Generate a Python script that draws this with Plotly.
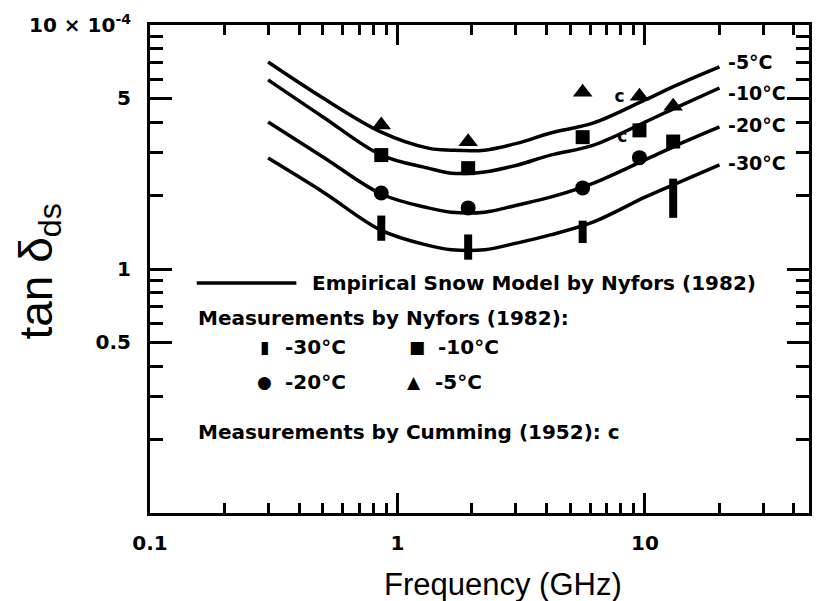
import math
import plotly.graph_objects as go

# ---- model curves (Empirical Snow Model by Nyfors 1982), values x 1e-4 ----
freq_model = [0.3, 0.5, 0.86, 1.33, 1.65, 2.25, 3.06, 4.15, 6.2, 10, 13.5, 20]
model_m5 = [7.05, 5.02, 3.64, 3.13, 3.07, 3.07, 3.28, 3.61, 3.97, 4.93, 5.68, 6.73]
model_m10 = [5.96, 4.20, 2.93, 2.59, 2.47, 2.50, 2.67, 2.93, 3.22, 4.0, 4.61, 5.52]
model_m20 = [4.0, 2.88, 2.03, 1.78, 1.71, 1.71, 1.83, 1.97, 2.25, 2.80, 3.22, 3.82]
model_m30 = [2.85, 2.07, 1.44, 1.25, 1.20, 1.20, 1.28, 1.38, 1.56, 1.97, 2.25, 2.67]
curve_labels = ["-5°C", "-10°C", "-20°C", "-30°C"]

# ---- Nyfors (1982) measurements ----
freq_m5 = [0.86, 1.93, 5.6, 9.5, 13]
meas_m5 = [3.89, 3.32, 5.3, 5.1, 4.65]
freq_m10 = [0.86, 1.93, 5.6, 9.5, 13]
meas_m10 = [2.93, 2.59, 3.47, 3.7, 3.33]
freq_m20 = [0.86, 1.93, 5.6, 9.5]
meas_m20 = [2.05, 1.78, 2.15, 2.86]
freq_m30 = [0.86, 1.93, 5.6, 13]
meas_m30 = [1.47, 1.23, 1.42, 1.95]
size_m30 = [18, 18, 16, 28]

# ---- Cumming (1952) measurements ----
freq_cum = [7.9, 8.1]
meas_cum = [5.02, 3.44]

# ---- axis ticks ----
x_major = [0.1, 1, 10]
x_major_text = ["0.1", "1", "10"]
x_minor = [0.2, 0.3, 0.4, 0.5, 0.6, 0.7, 0.8, 0.9, 2, 3, 4, 5, 6, 7, 8, 9, 20, 30, 40]
y_major = [0.5, 1, 5, 10]
y_major_text = ["0.5", "1", "5", "10 × 10<sup>-4</sup>"]
y_minor = [0.2, 0.3, 0.4, 0.6, 0.7, 0.8, 0.9, 2, 3, 4, 6, 7, 8, 9]

fig = go.Figure()
for ys in [model_m5, model_m10, model_m20, model_m30]:
    fig.add_trace(go.Scatter(x=freq_model, y=ys, mode="lines",
                             line=dict(color="black", width=3.5, shape="spline", smoothing=1.0),
                             hoverinfo="skip", showlegend=False))

fig.add_trace(go.Scatter(x=freq_m5, y=meas_m5, mode="markers",
                         marker=dict(symbol="triangle-up", size=17, color="black"), showlegend=False))
fig.add_trace(go.Scatter(x=freq_m10, y=meas_m10, mode="markers",
                         marker=dict(symbol="square", size=14, color="black"), showlegend=False))
fig.add_trace(go.Scatter(x=freq_m20, y=meas_m20, mode="markers",
                         marker=dict(symbol="circle", size=15, color="black"), showlegend=False))
fig.add_trace(go.Scatter(x=freq_m30, y=meas_m30, mode="markers", opacity=1,
                         marker=dict(symbol="line-ns", size=size_m30, color="rgb(0,0,0)", opacity=1,
                                     line=dict(color="rgb(0,0,0)", width=8)), showlegend=False))
fig.add_trace(go.Scatter(x=freq_cum, y=meas_cum, mode="text", text=["c", "c"],
                         textfont=dict(family="DejaVu Sans", size=17, color="black", weight="bold"),
                         showlegend=False))

lab_font = dict(family="DejaVu Sans", size=19, color="black", weight="bold")
label_y = [model_m5[-1], model_m10[-1], model_m20[-1], model_m30[-1]]
label_shift = [5, -5, 2, 2]
for lab, yv, sh in zip(curve_labels, label_y, label_shift):
    fig.add_annotation(x=math.log10(freq_model[-1]) + 0.028, y=math.log10(yv),
                       xref="x", yref="y", text=lab, showarrow=False, yshift=sh,
                       xanchor="left", yanchor="middle", font=lab_font)

# legend (drawn inside the plot)
def px(x):
    return (x - 150) / 662

def py(y):
    return (513 - y) / 488

fig.add_shape(type="line", xref="paper", yref="paper", x0=px(197), x1=px(297), y0=py(283), y1=py(283),
              line=dict(color="black", width=3.5))
leg_font = dict(family="DejaVu Sans", size=20, color="black", weight="bold")
fig.add_annotation(xref="paper", yref="paper", x=px(311), y=py(283), text="Empirical Snow Model by Nyfors (1982)",
                   showarrow=False, xanchor="left", yanchor="middle", font=leg_font)
fig.add_annotation(xref="paper", yref="paper", x=px(196), y=py(318), text="Measurements by Nyfors (1982):",
                   showarrow=False, xanchor="left", yanchor="middle", font=leg_font)
fig.add_annotation(xref="paper", yref="paper", x=px(196), y=py(432), text="Measurements by Cumming (1952): c",
                   showarrow=False, xanchor="left", yanchor="middle", font=leg_font)
for gx, gy, glyph, txt in [(265, 347, "▮", "-30°C"), (418, 347, "■", "-10°C"),
                           (265, 382, "●", "-20°C"), (415, 382, "▲", "-5°C")]:
    fig.add_annotation(xref="paper", yref="paper", x=px(gx), y=py(gy), text=glyph, showarrow=False,
                       xanchor="center", yanchor="middle", font=dict(family="DejaVu Sans", size=17, color="black"))
    fig.add_annotation(xref="paper", yref="paper", x=px(gx + 19), y=py(gy), text=txt, showarrow=False,
                       xanchor="left", yanchor="middle", font=leg_font)

# axis titles
fig.add_annotation(xref="paper", yref="paper", x=px(505), y=py(584), text="Frequency (GHz)", showarrow=False,
                   xanchor="center", yanchor="middle",
                   font=dict(family="Liberation Sans, Arial", size=31, color="black"))
fig.add_annotation(xref="paper", yref="paper", x=px(38), y=py(272), text="tan δ<sub>ds</sub>", showarrow=False,
                   xanchor="center", yanchor="middle", textangle=-90,
                   font=dict(family="Liberation Sans, Arial", size=46, color="black"))

tick_font = dict(family="DejaVu Sans", size=20, color="black", weight="bold")
fig.update_xaxes(type="log", range=[-1, math.log10(46)], showgrid=False, zeroline=False,
                 showline=True, linecolor="black", linewidth=3, mirror="allticks",
                 ticks="inside", ticklen=20, tickwidth=2.5, tickcolor="black",
                 tickmode="array", tickvals=x_major, ticktext=x_major_text,
                 tickfont=tick_font, ticklabelstandoff=10,
                 minor=dict(ticks="inside", ticklen=10, tickwidth=2.5, tickcolor="black",
                            tickmode="array", tickvals=x_minor, showgrid=False))
fig.update_yaxes(type="log", range=[-1, 1], showgrid=False, zeroline=False,
                 showline=True, linecolor="black", linewidth=3, mirror="allticks",
                 ticks="inside", ticklen=22, tickwidth=2.5, tickcolor="black",
                 tickmode="array", tickvals=y_major, ticktext=y_major_text,
                 tickfont=tick_font, ticklabelstandoff=12,
                 minor=dict(ticks="inside", ticklen=13, tickwidth=2.5, tickcolor="black",
                            tickmode="array", tickvals=y_minor, showgrid=False))

fig.update_layout(width=818, height=601, margin=dict(l=150, r=6, t=25, b=88),
                  plot_bgcolor="white", paper_bgcolor="white", showlegend=False)

fig.write_html("out.html")
